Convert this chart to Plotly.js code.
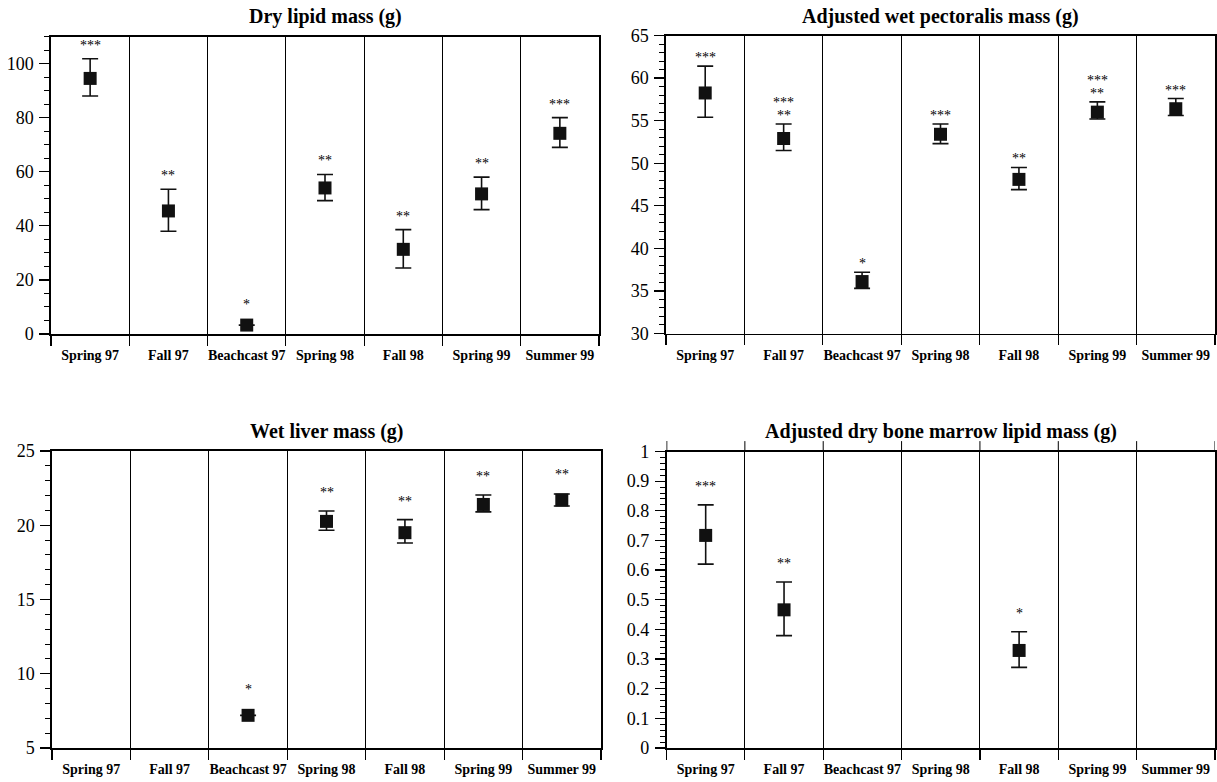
<!DOCTYPE html>
<html><head><meta charset="utf-8">
<script src="https://cdn.plot.ly/plotly-3.0.1.min.js"></script>
<style>html,body{margin:0;padding:0;background:#fff}#chart{width:1217px;height:782px}</style>
</head><body><div id="chart"></div>
<script>
const categories = ['Spring 97','Fall 97','Beachcast 97','Spring 98','Fall 98','Spring 99','Summer 99'];

const titles = ['Dry lipid mass (g)','Adjusted wet pectoralis mass (g)','Wet liver mass (g)','Adjusted dry bone marrow lipid mass (g)'];

// Dry lipid mass (g)
const lipidMean = [94.5, 45.5, 3.3, 54.0, 31.3, 51.8, 74.2];
const lipidHigh = [101.8, 53.5, 3.3, 59.0, 38.6, 58.0, 80.0];
const lipidLow  = [88.0, 38.0, 3.3, 49.3, 24.4, 46.0, 69.0];
const lipidStars = ['***','**','*','**','**','**','***'];

// Adjusted wet pectoralis mass (g)
const pectMean = [58.25, 52.9, 36.1, 53.4, 48.1, 56.0, 56.4];
const pectHigh = [61.4, 54.6, 37.2, 54.6, 49.5, 57.2, 57.6];
const pectLow  = [55.4, 51.5, 35.3, 52.3, 46.9, 55.2, 55.6];
const pectStars = ['***','***\n**','*','***','**','***\n**','***'];

// Wet liver mass (g)
const liverMean = [null, null, 7.2, 20.26, 19.5, 21.4, 21.7];
const liverHigh = [null, null, 7.2, 20.96, 20.38, 22.04, 22.1];
const liverLow  = [null, null, 7.2, 19.66, 18.8, 20.9, 21.3];
const liverStars = ['','','*','**','**','**','**'];

// Adjusted dry bone marrow lipid mass (g)
const marrowMean = [0.717, 0.466, null, null, 0.329, null, null];
const marrowHigh = [0.82, 0.56, null, null, 0.392, null, null];
const marrowLow  = [0.62, 0.379, null, null, 0.272, null, null];
const marrowStars = ['***','**','','','*','',''];

const W = 1217, H = 782;
const FONT = 'Liberation Serif, Times New Roman, serif';
const px = (a, b) => [a / W, b / W];
const py = (top, bottom) => [1 - bottom / H, 1 - top / H];

const panels = [
  {mean: lipidMean, hi: lipidHigh, lo: lipidLow, stars: lipidStars, range: [0, 110], dtick: 20, minor: 5,
   xd: px(51, 599), yd: py(36.5, 334), gap: 15},
  {mean: pectMean, hi: pectHigh, lo: pectLow, stars: pectStars, range: [30, 65], dtick: 5, minor: 1,
   xd: px(666, 1215), yd: py(35.5, 333.5), gap: 10},
  {mean: liverMean, hi: liverHigh, lo: liverLow, stars: liverStars, range: [5, 25], dtick: 5, minor: 1,
   xd: px(52, 601), yd: py(451, 748), gap: 20},
  {mean: marrowMean, hi: marrowHigh, lo: marrowLow, stars: marrowStars, range: [0, 1], dtick: 0.1, minor: 0.02,
   xd: px(666.5, 1215), yd: py(451.5, 748), gap: 20}
];

const traces = [];
const layout = {
  width: W, height: H, margin: {l: 0, r: 0, t: 0, b: 0},
  paper_bgcolor: '#fff', plot_bgcolor: '#fff', showlegend: false,
  annotations: [], shapes: []
};

panels.forEach((p, k) => {
  const s = k === 0 ? '' : String(k + 1);
  const xa = 'x' + s, ya = 'y' + s;
  layout['xaxis' + s] = {
    domain: p.xd, anchor: ya, type: 'category', categoryorder: 'array', categoryarray: categories,
    range: [-0.5, 6.5], tickson: 'boundaries', ticks: 'outside', ticklen: 10, tickwidth: 1.2, tickcolor: '#000',
    showgrid: true, gridcolor: '#000', gridwidth: 1, showline: true, linecolor: '#000', linewidth: 1.6,
    mirror: true, zeroline: false, fixedrange: true, tickangle: 0, automargin: false, ticklabelstandoff: 8,
    tickfont: {family: FONT, size: 14, color: '#000', weight: 'bold'}
  };
  layout['yaxis' + s] = {
    domain: p.yd, anchor: xa, range: p.range, dtick: p.dtick, tick0: p.range[0],
    ticks: 'outside', ticklen: 10, tickwidth: 1.2, tickcolor: '#000',
    showline: true, linecolor: '#000', linewidth: 1.6, mirror: true, showgrid: false, zeroline: false,
    fixedrange: true, ticklabelstandoff: 2, automargin: false,
    tickfont: {family: FONT, size: 18, color: '#000'},
    minor: {dtick: p.minor, ticks: 'outside', ticklen: 5, tickwidth: 1, tickcolor: '#000', showgrid: false}
  };
  traces.push({
    type: 'scatter', mode: 'markers', x: categories, y: p.mean, xaxis: xa, yaxis: ya,
    marker: {symbol: 'square', size: 13, color: '#111'},
    error_y: {
      type: 'data', symmetric: false,
      array: p.hi.map((h, i) => h == null ? null : h - p.mean[i]),
      arrayminus: p.lo.map((l, i) => l == null ? null : p.mean[i] - l),
      color: '#111', thickness: 1.6, width: 8
    },
    hoverinfo: 'skip', showlegend: false, cliponaxis: false
  });
  // title
  layout.annotations.push({
    text: titles[k], xref: 'paper', yref: 'paper', x: (p.xd[0] + p.xd[1]) / 2,
    y: k < 2 ? 1 - 17 / H : 1 - 432 / H, xanchor: 'center', yanchor: 'middle', showarrow: false,
    font: {family: FONT, size: 20, color: '#000', weight: 'bold'}
  });
  // significance stars
  const ppu = (p.yd[1] - p.yd[0]) * H / (p.range[1] - p.range[0]);
  p.stars.forEach((st, i) => {
    if (!st || p.mean[i] == null) return;
    const top = Math.max((p.hi[i] - p.mean[i]) * ppu, 7);
    const lines = st.split('\n');
    lines.forEach((line, j) => {
      const fromBottom = lines.length - 1 - j;
      layout.annotations.push({
        text: line, xref: xa, yref: ya, x: categories[i], y: p.mean[i],
        xanchor: 'center', yanchor: 'bottom', showarrow: false,
        yshift: top + p.gap - 11 + fromBottom * 13,
        font: {family: FONT, size: 14, color: '#000'}
      });
    });
  });
});

// bone marrow panel: separators extend slightly above the top border
for (let b = 0; b <= 7; b++) {
  layout.shapes.push({type: 'line', xref: 'x4', yref: 'y4 domain', x0: b - 0.5, x1: b - 0.5, y0: 1, y1: 1.035,
    line: {color: '#000', width: b === 0 ? 1.6 : 1}});
}

Plotly.newPlot('chart', traces, layout, {staticPlot: true, displayModeBar: false});
</script>
</body></html>
